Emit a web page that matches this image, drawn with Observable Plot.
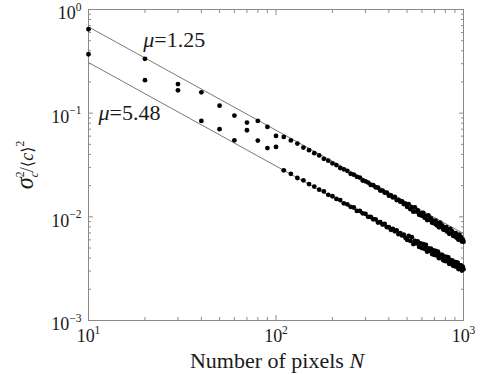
<!DOCTYPE html>
<html><head><meta charset="utf-8">
<script src="https://cdn.jsdelivr.net/npm/d3@7"></script>
<script src="https://cdn.jsdelivr.net/npm/@observablehq/plot@0.6"></script>
<style>body{margin:0;background:#fff;} svg{display:block;} svg text{font-family:"Liberation Serif","DejaVu Serif",serif;}</style>
</head><body><div id="chart"></div>
<script>
// Number of pixels N
const pixelCounts = [10,20,30,40,50,60,70,80,90,100,
110,120,130,140,150,160,170,180,190,200,
210,220,230,240,250,260,270,280,290,300,
310,320,330,340,350,360,370,380,390,400,
410,420,430,440,450,460,470,480,490,500,
510,520,530,540,550,560,570,580,590,600,
610,620,630,640,650,660,670,680,690,700,
710,720,730,740,750,760,770,780,790,800,
810,820,830,840,850,860,870,880,890,900,
910,920,930,940,950,960,970,980,990,1000];

// sigma_c^2 / <c>^2 for mu = 1.25
const varMu125 = [0.645,0.334,0.191,0.159,0.118,0.0948,0.0811,0.0841,0.0736,0.0603,
0.0590,0.0546,0.0509,0.0466,0.0440,0.0411,0.0391,0.0363,0.0348,0.0328,
0.0316,0.0296,0.0287,0.0278,0.0260,0.0255,0.0243,0.0239,0.0224,0.0220,
0.0214,0.0203,0.0202,0.0193,0.0191,0.0179,0.0179,0.0171,0.0171,0.0160,
0.0161,0.0154,0.0156,0.0145,0.0146,0.0140,0.0141,0.0133,0.0134,0.0125,
0.01322,0.01188,0.01230,0.01122,0.01236,0.01123,0.01154,0.01047,0.01086,0.01025,
0.01089,0.00981,0.01019,0.00931,0.01031,0.00938,0.00967,0.00878,0.00914,0.00864,
0.00921,0.00831,0.00866,0.00792,0.00880,0.00801,0.00829,0.00753,0.00786,0.00744,
0.00795,0.00717,0.00749,0.00686,0.00765,0.00697,0.00722,0.00656,0.00687,0.00650,
0.00697,0.00628,0.00658,0.00602,0.00674,0.00614,0.00637,0.00579,0.00607,0.00575];

// sigma_c^2 / <c>^2 for mu = 5.48
const varMu548 = [0.370,0.208,0.166,0.0841,0.0700,0.0547,0.0684,0.0544,0.0461,0.0472,
0.0281,0.0260,0.0237,0.0225,0.0207,0.0196,0.0183,0.0176,0.0163,0.0158,
0.0149,0.0145,0.0135,0.0132,0.0125,0.0123,0.0114,0.0114,0.0108,0.0107,
0.0100,0.00997,0.00948,0.00947,0.00880,0.00889,0.00843,0.00853,0.00795,0.00795,
0.00751,0.00767,0.00726,0.00739,0.00680,0.00696,0.00662,0.00675,0.00627,0.00600,
0.00653,0.00587,0.00636,0.00546,0.00587,0.00554,0.00579,0.00512,0.00554,0.00500,
0.00546,0.00492,0.00535,0.00461,0.00497,0.00470,0.00493,0.00437,0.00474,0.00429,
0.00469,0.00424,0.00462,0.00399,0.00431,0.00408,0.00429,0.00381,0.00414,0.00375,
0.00411,0.00372,0.00406,0.00351,0.00380,0.00360,0.00379,0.00338,0.00367,0.00333,
0.00366,0.00332,0.00362,0.00314,0.00340,0.00323,0.00340,0.00303,0.00330,0.00312];

// Fitted lines
const fitN = [10, 1000];
const fitMu125 = [0.68, 0.0069];
const fitMu548 = [0.308, 0.0031];

// Annotations
const annoText = ["μ=1.25", "μ=5.48"];
const annoN = [19.6, 11.3];
const annoV = [0.433, 0.0854];

// Ticks
const xMajorTicks = [10, 100, 1000];
const xTickExp = ["1", "2", "3"];
const xMinorTicks = [20,30,40,50,60,70,80,90,200,300,400,500,600,700,800,900];
const yMajorTicks = [0.001, 0.01, 0.1, 1];
const yTickExp = ["−3", "−2", "−1", "0"];
const yMinorTicks = [0.002,0.003,0.004,0.005,0.006,0.007,0.008,0.009,
  0.02,0.03,0.04,0.05,0.06,0.07,0.08,0.09,0.2,0.3,0.4,0.5,0.6,0.7,0.8,0.9];

const points = [];
pixelCounts.forEach((n, i) => {
  points.push({N: n, v: varMu125[i], s: "1.25"});
  points.push({N: n, v: varMu548[i], s: "5.48"});
});
const fitLines = [];
fitN.forEach((n, i) => {
  fitLines.push({N: n, v: fitMu125[i], s: "1.25"});
  fitLines.push({N: n, v: fitMu548[i], s: "5.48"});
});
const annos = annoText.map((t, i) => ({t, N: annoN[i], v: annoV[i]}));

const blank = () => "";
const axisColor = "#8a8a8a";
const serif = "Liberation Serif, DejaVu Serif, serif";

const plot = Plot.plot({
  width: 495, height: 375,
  marginLeft: 88, marginRight: 32, marginTop: 9, marginBottom: 55,
  x: {type: "log", domain: [10, 1000]},
  y: {type: "log", domain: [0.001, 1]},
  style: "font-family: 'Liberation Serif', serif; font-size: 18px; color: #1a1a1a; background: #fff;",
  marks: [
    Plot.frame({stroke: axisColor, strokeWidth: 1}),
    // inward major / minor ticks on all four sides
    Plot.axisY(yMajorTicks, {anchor: "left", tickSize: -5, tickFormat: blank, stroke: axisColor, label: null}),
    Plot.axisY(yMinorTicks, {anchor: "left", tickSize: -3, tickFormat: blank, stroke: axisColor, label: null}),
    Plot.axisY(yMajorTicks, {anchor: "right", tickSize: -5, tickFormat: blank, stroke: axisColor, label: null}),
    Plot.axisY(yMinorTicks, {anchor: "right", tickSize: -3, tickFormat: blank, stroke: axisColor, label: null}),
    Plot.axisX(xMajorTicks, {anchor: "bottom", tickSize: -5, tickFormat: blank, stroke: axisColor, label: null}),
    Plot.axisX(xMinorTicks, {anchor: "bottom", tickSize: -3, tickFormat: blank, stroke: axisColor, label: null}),
    Plot.axisX(xMajorTicks, {anchor: "top", tickSize: -5, tickFormat: blank, stroke: axisColor, label: null}),
    Plot.axisX(xMinorTicks, {anchor: "top", tickSize: -3, tickFormat: blank, stroke: axisColor, label: null}),
    // tick labels
    Plot.axisY(yMajorTicks, {anchor: "left", tickSize: 0, tickPadding: 7, dy: 4, label: null,
      tickFormat: (d) => "10|" + yTickExp[yMajorTicks.indexOf(d)]}),
    Plot.axisX(xMajorTicks, {anchor: "bottom", tickSize: 0, tickPadding: 9, label: null,
      tickFormat: (d) => "10|" + xTickExp[xMajorTicks.indexOf(d)]}),
    // fitted lines
    Plot.line(fitLines, {x: "N", y: "v", z: "s", stroke: "#7a7a7a", strokeWidth: 1}),
    // data points
    Plot.dot(points, {x: "N", y: "v", r: 2.4, fill: "#000", stroke: null}),
    // annotations
    Plot.text(annos, {x: "N", y: "v", text: "t", textAnchor: "start", lineAnchor: "bottom", fontSize: 22})
  ]
});

const ns = "http://www.w3.org/2000/svg";
function tspan(txt, attrs) {
  const t = document.createElementNS(ns, "tspan");
  t.textContent = txt;
  for (const k in attrs) t.setAttribute(k, attrs[k]);
  return t;
}
plot.querySelectorAll("text").forEach(t => t.setAttribute("font-family", serif));
plot.querySelectorAll('g[aria-label="x-axis tick label"] text, g[aria-label="y-axis tick label"] text').forEach(t => {
  const s = t.textContent;
  if (!s.includes("|")) return;
  const [b, e] = s.split("|");
  t.textContent = "";
  t.append(tspan(b, {}), tspan(e, {"font-size": "0.64em", dy: "-0.75em"}));
});
plot.querySelectorAll('g[aria-label="text"] text').forEach(t => {
  const s = t.textContent;
  t.textContent = "";
  t.append(tspan(s.slice(0, 1), {"font-style": "italic"}), tspan(s.slice(1), {}));
});

const svg = d3.select(plot);
// x-axis title
const xt = svg.append("text")
  .attr("x", 277).attr("y", 368)
  .attr("text-anchor", "middle").attr("font-family", serif)
  .attr("font-size", 22).attr("fill", "#1a1a1a");
xt.text("Number of pixels ");
xt.append("tspan").attr("font-style", "italic").text("N");

// y-axis title
const bracketFont = "DejaVu Serif, DejaVu Sans, serif";
const yt = svg.append("text")
  .attr("transform", "translate(33,165) rotate(-90)")
  .attr("text-anchor", "middle").attr("font-family", serif)
  .attr("font-size", 18).attr("fill", "#1a1a1a");
yt.append("tspan").attr("font-style", "italic").attr("font-size", "1.35em").text("σ");
yt.append("tspan").attr("font-size", "0.65em").attr("dy", "-0.8em").text("2");
yt.append("tspan").attr("font-size", "0.65em").attr("font-style", "italic").attr("dx", "-0.5em").attr("dy", "1.2em").text("c");
yt.append("tspan").attr("dy", "-0.28em").text("/");
yt.append("tspan").attr("font-family", bracketFont).attr("font-size", "0.9em").text("⟨");
yt.append("tspan").attr("font-style", "italic").text("c");
yt.append("tspan").attr("font-family", bracketFont).attr("font-size", "0.9em").text("⟩");
yt.append("tspan").attr("font-size", "0.65em").attr("dy", "-0.75em").text("2");

document.getElementById("chart").append(plot);
</script>
</body></html>
